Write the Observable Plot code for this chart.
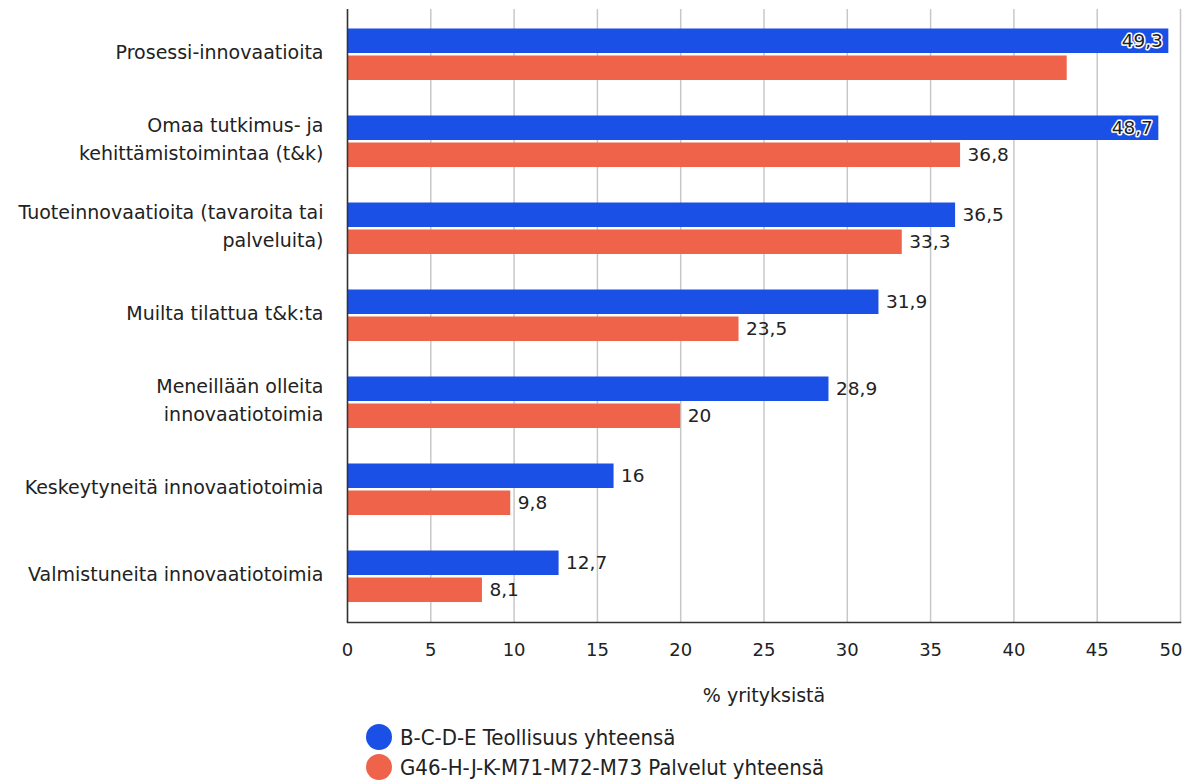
<!DOCTYPE html>
<html><head><meta charset="utf-8">
<script src="https://cdn.jsdelivr.net/npm/d3@7"></script>
<script src="https://cdn.jsdelivr.net/npm/@observablehq/plot@0.6"></script>
<style>
body{margin:0;background:#fff;font-family:"DejaVu Sans",Verdana,sans-serif;}
#chart svg{display:block;}
#legend{padding-left:366px;padding-top:2px;font-size:22px;color:#222;font-family:"Liberation Sans Narrow","Arial Narrow","DejaVu Sans Condensed",sans-serif;}
.row{display:flex;align-items:center;height:30px;}
.dot{width:26px;height:26px;border-radius:50%;margin-right:8px;flex:none;}
</style></head><body>
<div id="chart"></div>
<div id="legend"></div>
<script>
const categories = [
  "Prosessi-innovaatioita",
  "Omaa tutkimus- ja\nkehittämistoimintaa (t&k)",
  "Tuoteinnovaatioita (tavaroita tai\npalveluita)",
  "Muilta tilattua t&k:ta",
  "Meneillään olleita\ninnovaatiotoimia",
  "Keskeytyneitä innovaatiotoimia",
  "Valmistuneita innovaatiotoimia"
];
const seriesNames = ["B-C-D-E Teollisuus yhteensä", "G46-H-J-K-M71-M72-M73 Palvelut yhteensä"];
const teollisuus = [49.3, 48.7, 36.5, 31.9, 28.9, 16, 12.7];
const palvelut = [43.2, 36.8, 33.3, 23.5, 20, 9.8, 8.1];
const teollisuusLabelShown = [true, true, true, true, true, true, true];
const palvelutLabelShown = [false, true, true, true, true, true, true];
const xTicks = [0, 5, 10, 15, 20, 25, 30, 35, 40, 45, 50];
const axisTitle = "% yrityksistä";
const colors = ["#1a50e6", "#f0634b"];

const fmt = v => String(v).replace(".", ",");
const rows = [];
categories.forEach((c, i) => {
  rows.push({cat: c, s: 0, value: teollisuus[i], label: fmt(teollisuus[i]), show: teollisuusLabelShown[i]});
  rows.push({cat: c, s: 1, value: palvelut[i], label: fmt(palvelut[i]), show: palvelutLabelShown[i]});
});
const blue = rows.filter(d => d.s === 0);
const orange = rows.filter(d => d.s === 1);
const inside = d => d.value > 45;
const lastTick = xTicks[xTicks.length - 1];

const textStyle = {fontSize: 18.5, fill: "#222"};
const chart = Plot.plot({
  width: 1183,
  height: 720,
  marginLeft: 347,
  marginRight: 3,
  marginTop: 9,
  marginBottom: 98,
  style: {fontFamily: "DejaVu Sans, Verdana, sans-serif", fontSize: "18px", color: "#222", background: "#fff"},
  x: {domain: [0, 50]},
  y: {domain: categories, padding: 0},
  marks: [
    Plot.gridX(xTicks, {stroke: "#c8c8c8", strokeOpacity: 1, strokeWidth: 1.5}),
    Plot.barX(blue, {y: "cat", x: "value", fill: colors[0], insetTop: 17.5, insetBottom: 45}),
    Plot.barX(orange, {y: "cat", x: "value", fill: colors[1], insetTop: 44.5, insetBottom: 18}),
    Plot.ruleX([0], {stroke: "#333", strokeWidth: 1.5}),
    Plot.frame({anchor: "bottom", stroke: "#333", strokeWidth: 1.5}),
    Plot.text(blue.filter(d => d.show && !inside(d)), {y: "cat", x: "value", text: "label", dx: 7, dy: -13.5, textAnchor: "start", ...textStyle}),
    Plot.text(orange.filter(d => d.show && !inside(d)), {y: "cat", x: "value", text: "label", dx: 7, dy: 13.5, textAnchor: "start", ...textStyle}),
    Plot.text(blue.filter(d => d.show && inside(d)), {y: "cat", x: "value", text: "label", dx: -6, dy: -13.5, textAnchor: "end", stroke: "#fff", strokeWidth: 3, ...textStyle}),
    Plot.text(orange.filter(d => d.show && inside(d)), {y: "cat", x: "value", text: "label", dx: -6, dy: 13.5, textAnchor: "end", stroke: "#fff", strokeWidth: 3, ...textStyle}),
    Plot.axisY({tickSize: 0, tickPadding: 24, label: null, lineHeight: 1.47, dy: -5, fontSize: 19, fill: "#222"}),
    Plot.axisX({ticks: xTicks.slice(0, -1), tickSize: 0, tickPadding: 21, label: null, fontSize: 18, fill: "#222", tickFormat: d => String(d)}),
    Plot.axisX({ticks: [lastTick], tickSize: 0, tickPadding: 21, label: null, fontSize: 18, fill: "#222", textAnchor: "end", dx: 2, tickFormat: d => String(d)}),
    Plot.text([axisTitle], {frameAnchor: "bottom", dy: 79, fontSize: 19, fill: "#222"})
  ]
});
document.getElementById("chart").appendChild(chart);

const legend = document.getElementById("legend");
seriesNames.forEach((name, i) => {
  const row = document.createElement("div");
  row.className = "row";
  const dot = document.createElement("span");
  dot.className = "dot";
  dot.style.background = colors[i];
  const label = document.createElement("span");
  label.textContent = name;
  row.appendChild(dot);
  row.appendChild(label);
  legend.appendChild(row);
});
</script>
</body></html>
